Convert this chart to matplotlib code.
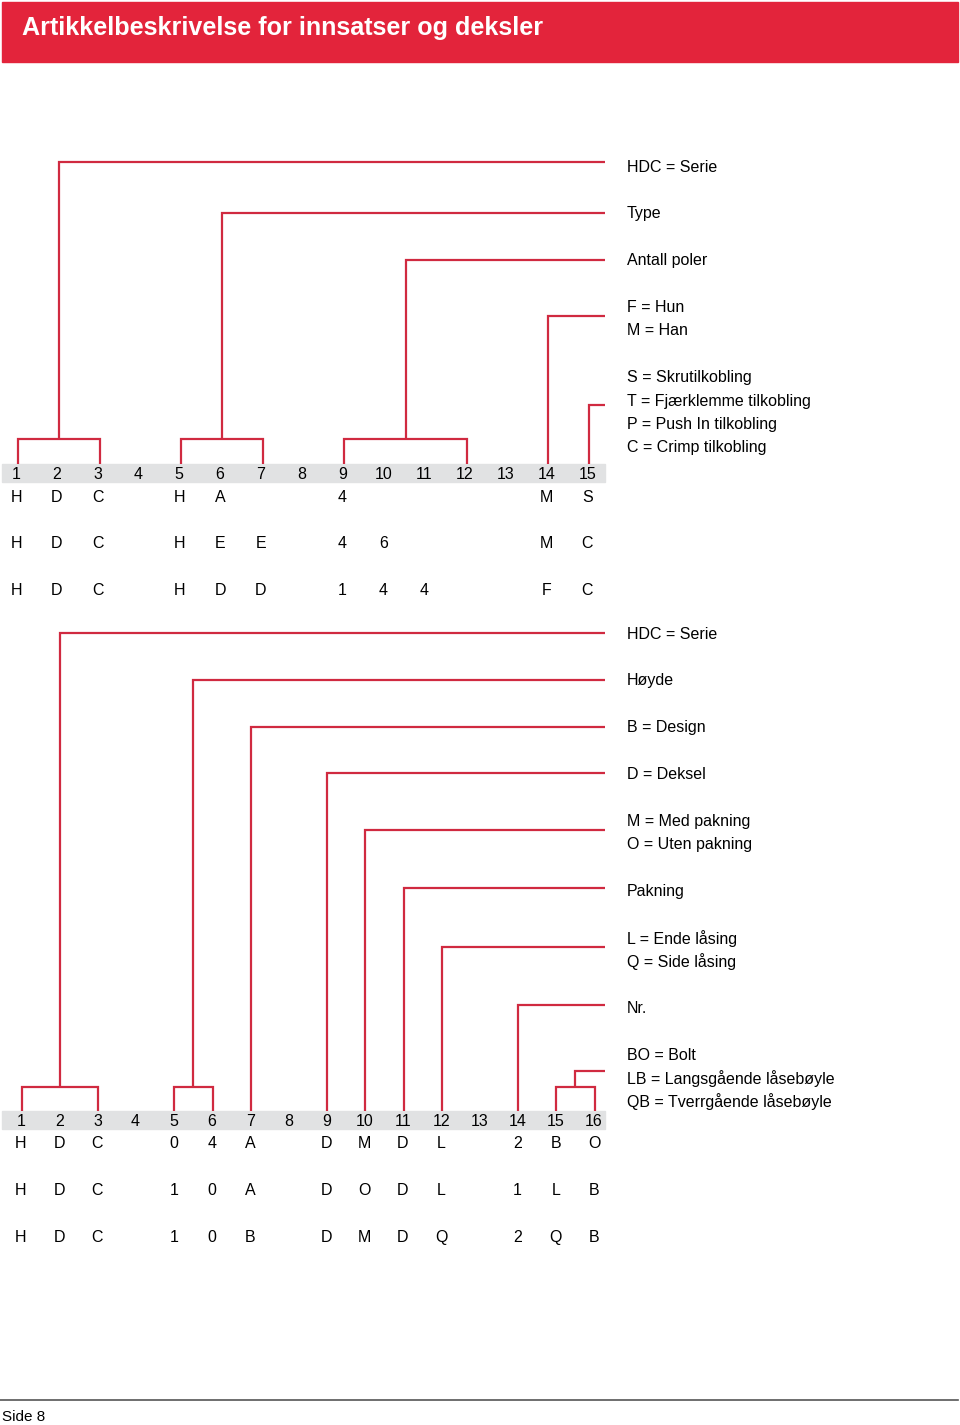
import matplotlib
matplotlib.use("Agg")
import matplotlib.pyplot as plt
from matplotlib.patches import Rectangle

plt.rcParams['font.family'] = ['Liberation Sans', 'DejaVu Sans']

# --- Data ---
TITLE = "Artikkelbeskrivelse for innsatser og deksler"
FOOTER = "Side 8"

# Upper table (innsatser)
upper_cols = [str(i) for i in range(1, 16)]
upper_rows = [
    ["H", "D", "C", "", "H", "A", "", "", "4", "", "", "", "", "M", "S"],
    ["H", "D", "C", "", "H", "E", "E", "", "4", "6", "", "", "", "M", "C"],
    ["H", "D", "C", "", "H", "D", "D", "", "1", "4", "4", "", "", "F", "C"],
]
upper_labels = [
    (0, "HDC = Serie"),
    (2, "Type"),
    (4, "Antall poler"),
    (6, "F = Hun"), (7, "M = Han"),
    (9, "S = Skrutilkobling"), (10, "T = Fjærklemme tilkobling"),
    (11, "P = Push In tilkobling"), (12, "C = Crimp tilkobling"),
]
# (columns spanned, label line the bracket points to)
upper_groups = [([1, 3], -0.15), ([5, 7], 2), ([9, 12], 4), ([14], 6.4), ([15], 10.2)]

# Lower table (deksler)
lower_cols = [str(i) for i in range(1, 17)]
lower_rows = [
    ["H", "D", "C", "", "0", "4", "A", "", "D", "M", "D", "L", "", "2", "B", "O"],
    ["H", "D", "C", "", "1", "0", "A", "", "D", "O", "D", "L", "", "1", "L", "B"],
    ["H", "D", "C", "", "1", "0", "B", "", "D", "M", "D", "Q", "", "2", "Q", "B"],
]
lower_labels = [
    (0, "HDC = Serie"),
    (2, "Høyde"),
    (4, "B = Design"),
    (6, "D = Deksel"),
    (8, "M = Med pakning"), (9, "O = Uten pakning"),
    (11, "Pakning"),
    (13, "L = Ende låsing"), (14, "Q = Side låsing"),
    (16, "Nr."),
    (18, "BO = Bolt"), (19, "LB = Langsgående låsebøyle"), (20, "QB = Tverrgående låsebøyle"),
]
lower_groups = [([1, 3], 0), ([5, 6], 2), ([7], 4), ([9], 6), ([10], 8.4), ([11], 10.9),
                ([12], 13.4), ([14], 15.9), ([15, 16], 18.7)]

RED = "#E3243B"
LINE_RED = "#D02A40"
BAND = "#E1E2E3"
FS = 11.5

fig = plt.figure(figsize=(9.6, 14.25), dpi=100)
ax = fig.add_axes([0, 0, 1, 1])
ax.set_xlim(0, 960)
ax.set_ylim(1425, 0)
ax.axis("off")

# title bar
ax.add_patch(Rectangle((2, 2), 956, 60, color=RED, zorder=1))
ax.text(22, 28, TITLE, color="white", fontsize=18.1, fontweight="bold", va="center", ha="left")


def draw_block(cols, rows, labels, groups, x0, dx, off, band_top, band_h, row_gap,
               label_y0, label_dy, bracket_y):
    xs = [x0 + i * dx for i in range(len(cols))]
    band_mid = band_top + band_h / 2
    ax.add_patch(Rectangle((2, band_top), 603, band_h, color=BAND, zorder=1))
    for x, c in zip(xs, cols):
        ax.text(x, band_mid + 1, c, fontsize=FS, ha="center", va="center", zorder=3)
    for r, row in enumerate(rows):
        y = band_top + band_h + 15 + r * row_gap
        for x, v in zip(xs, row):
            if v:
                ax.text(x, y, v, fontsize=FS, ha="center", va="center", zorder=3)
    for idx, txt in labels:
        ax.text(627, label_y0 + idx * label_dy, txt, fontsize=FS, ha="left", va="center")
    lk = dict(color=LINE_RED, lw=1.6, solid_capstyle="butt", solid_joinstyle="miter", zorder=2)
    for span, line_idx in groups:
        hook_y = label_y0 + line_idx * label_dy - 1
        px = [xs[c - 1] + off for c in span]
        if len(span) > 1:
            ax.plot([px[0], px[0], px[-1], px[-1]],
                    [band_top, bracket_y, bracket_y, band_top], **lk)
            stem_x = (px[0] + px[-1]) / 2
            ax.plot([stem_x, stem_x, 605], [bracket_y, hook_y, hook_y], **lk)
        else:
            ax.plot([px[0], px[0], 605], [band_top, hook_y, hook_y], **lk)


draw_block(upper_cols, upper_rows, upper_labels, upper_groups,
           x0=16, dx=40.8, off=2, band_top=464, band_h=18, row_gap=46.8,
           label_y0=167, label_dy=23.4, bracket_y=439)
draw_block(lower_cols, lower_rows, lower_labels, lower_groups,
           x0=21, dx=38.2, off=0.5, band_top=1111, band_h=18, row_gap=46.8,
           label_y0=634, label_dy=23.4, bracket_y=1087)

# footer
ax.plot([0, 958], [1400, 1400], color="#555555", lw=1.2)
ax.text(2, 1417, FOOTER, fontsize=11, ha="left", va="center",
        family=["Liberation Sans Narrow", "Liberation Sans", "DejaVu Sans"])

fig.savefig("out.png", dpi=100)
